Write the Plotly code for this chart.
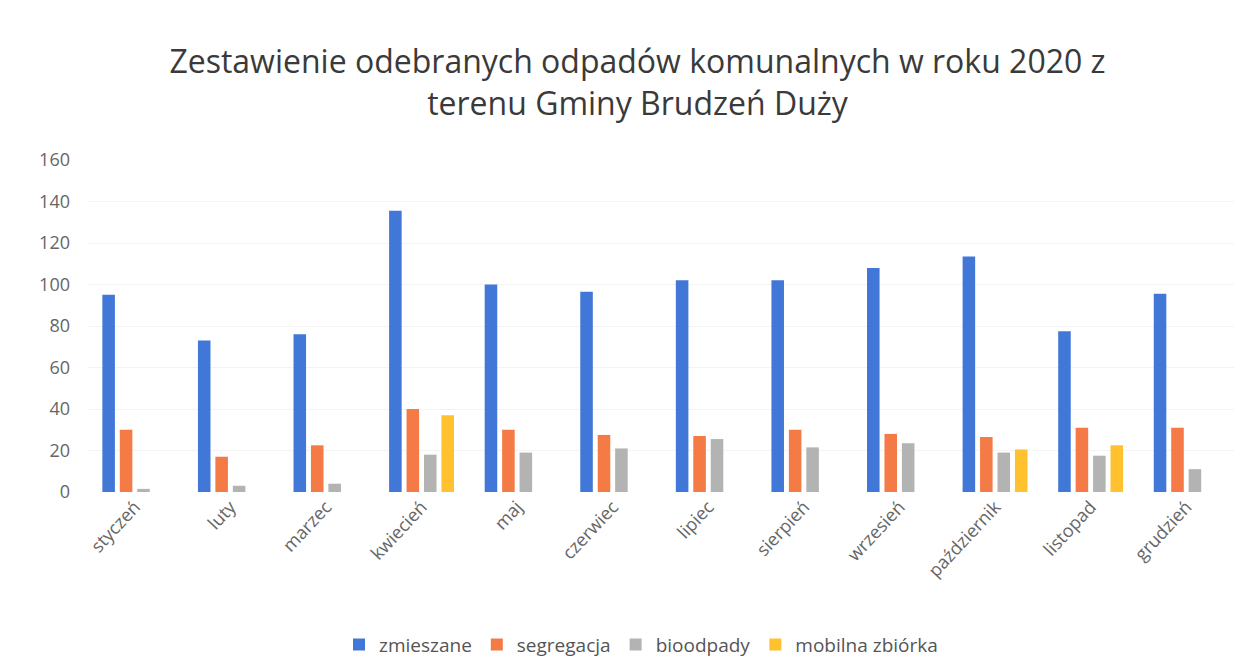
import plotly.graph_objects as go

months = ["styczeń", "luty", "marzec", "kwiecień", "maj", "czerwiec", "lipiec",
          "sierpień", "wrzesień", "październik", "listopad", "grudzień"]
zmieszane = [95, 73, 76, 135.5, 100, 96.5, 102, 102, 108, 113.5, 77.5, 95.5]
segregacja = [30, 17, 22.5, 40, 30, 27.5, 27, 30, 28, 26.5, 31, 31]
bioodpady = [1.5, 3, 4, 18, 19, 21, 25.5, 21.5, 23.5, 19, 17.5, 11]
mobilna = [None, None, None, 37, None, None, None, None, None, 20.5, 22.5, None]

series = [
    ("zmieszane", zmieszane, "#4178D8"),
    ("segregacja", segregacja, "#F47B45"),
    ("bioodpady", bioodpady, "#B3B3B3"),
    ("mobilna zbiórka", mobilna, "#FFC12E"),
]

font_family = "Open Sans, Liberation Sans, sans-serif"

fig = go.Figure()
for name, vals, color in series:
    fig.add_trace(go.Bar(x=months, y=vals, name=name, marker_color=color,
                         marker_line_width=0))

fig.update_layout(
    width=1249, height=672,
    paper_bgcolor="white", plot_bgcolor="white",
    barmode="group", bargap=0.27, bargroupgap=0.28,
    margin=dict(l=79, r=23, t=152, b=188),
    title=dict(text="Zestawienie odebranych odpadów komunalnych w roku 2020 z<br>terenu Gminy Brudzeń Duży",
               x=0.504, xanchor="center", y=0.903, yanchor="middle",
               font=dict(family=font_family, size=32, color="#3a3a3a")),
    font=dict(family=font_family, color="#666666"),
    legend=dict(orientation="h", x=0.483, xanchor="center", y=-0.46, yanchor="middle",
                font=dict(size=19, color="#555555"), itemwidth=30,
                traceorder="normal"),
    xaxis=dict(tickangle=-47, tickfont=dict(size=18, color="#666666"),
               showgrid=False, showline=False, ticks=""),
    yaxis=dict(range=[0, 160], dtick=20, tickfont=dict(size=18, color="#666666"),
               showgrid=True, gridcolor="#f3f3f3", zeroline=False,
               ticklabelstandoff=16),
)

fig.write_html("out.html")
